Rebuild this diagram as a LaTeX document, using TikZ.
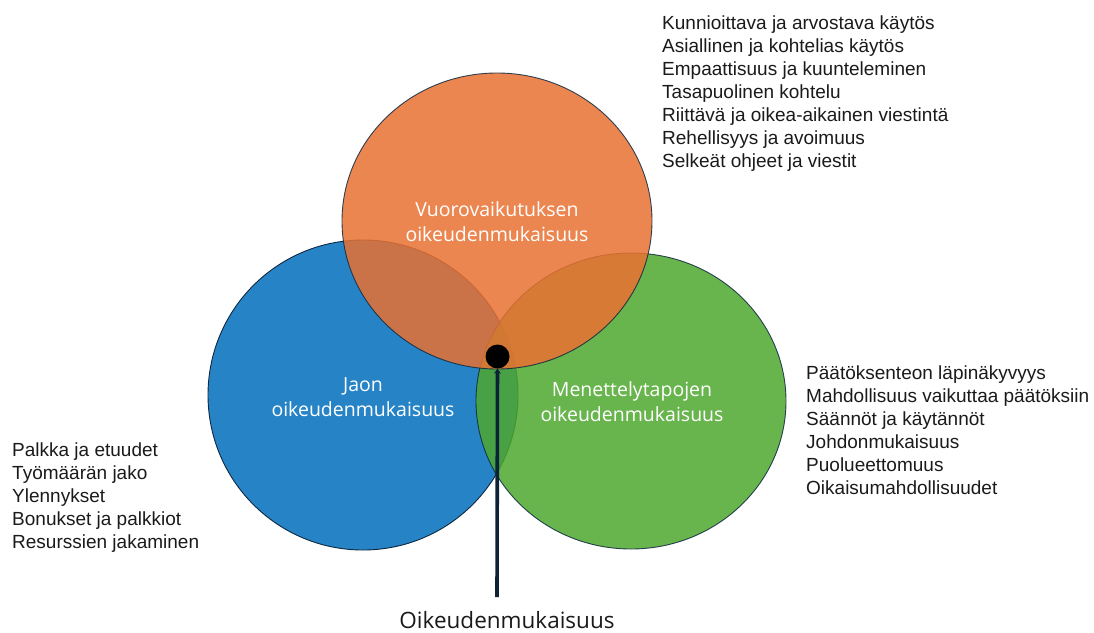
\documentclass[tikz,border=0pt]{standalone}
\usepackage{fontspec}
\setmainfont{Liberation Sans}
\newfontfamily\lblfont{Open Sans}
\usetikzlibrary{arrows.meta,shapes.geometric}
\definecolor{cblue}{RGB}{38,132,198}
\definecolor{cgreen}{RGB}{78,167,46}
\definecolor{corange}{RGB}{233,113,50}
\definecolor{cnavy}{RGB}{14,40,65}
\definecolor{ctext}{RGB}{26,26,26}
\tikzset{
  setbox/.style={ellipse, inner sep=0pt, minimum width=310pt, draw=cnavy, line width=0.9pt},
  lbl/.style={text=white, font=\lblfont\fontsize{19.5}{25}\selectfont, align=center, inner sep=0pt},
  item/.style={anchor=base west, text=ctext, font=\fontsize{19}{23}\selectfont, inner sep=0pt},
  stem/.style={draw=cnavy!85!black, line width=3.6pt, -{Stealth[length=5pt,width=7pt]}},
}
\begin{document}
\begin{tikzpicture}[x=1pt,y=-1pt]
\useasboundingbox (0,0) rectangle (1094,632);
% sets
\node[setbox, minimum height=310pt, fill=cblue] (blue) at (363,395) {};
\node[setbox, minimum height=296pt, fill=cgreen, opacity=0.85] (green) at (631,401) {};
\node[setbox, minimum height=296pt, fill=corange, opacity=0.85] (orange) at (497,221) {};
% labels
\node[lbl] (lo) at (497,222) {Vuorovaikutuksen\\oikeudenmukaisuus};
\node[lbl] (lb) at (363,397) {Jaon\\oikeudenmukaisuus};
\node[lbl] (lg) at (632,402) {Menettelytapojen\\oikeudenmukaisuus};
% stem and dot
\node[circle, fill=black, inner sep=0pt, minimum size=24pt] (dot) at (497.5,356.5) {};
\coordinate (base) at (497,597);
\draw[stem] (base) -- (dot);
\node[font=\lblfont\fontsize{22.5}{27}\selectfont, text=ctext, inner sep=0pt] (title) at (507,620) {Oikeudenmukaisuus};
% top list
\foreach \t [count=\i] in {Kunnioittava ja arvostava käytös, Asiallinen ja kohtelias käytös, Empaattisuus ja kuunteleminen, Tasapuolinen kohtelu, Riittävä ja oikea-aikainen viestintä, Rehellisyys ja avoimuus, Selkeät ohjeet ja viestit}
  \node[item] (top\i) at (662,{29+23*(\i-1)}) {\t};
% right list
\foreach \t [count=\i] in {Päätöksenteon läpinäkyvyys, Mahdollisuus vaikuttaa päätöksiin, Säännöt ja käytännöt, Johdonmukaisuus, Puolueettomuus, Oikaisumahdollisuudet}
  \node[item] (right\i) at (806,{379+23*(\i-1)}) {\t};
% left list
\foreach \t [count=\i] in {Palkka ja etuudet, Työmäärän jako, Ylennykset, Bonukset ja palkkiot, Resurssien jakaminen}
  \node[item] (left\i) at (12,{456+23*(\i-1)}) {\t};
\end{tikzpicture}
\end{document}
